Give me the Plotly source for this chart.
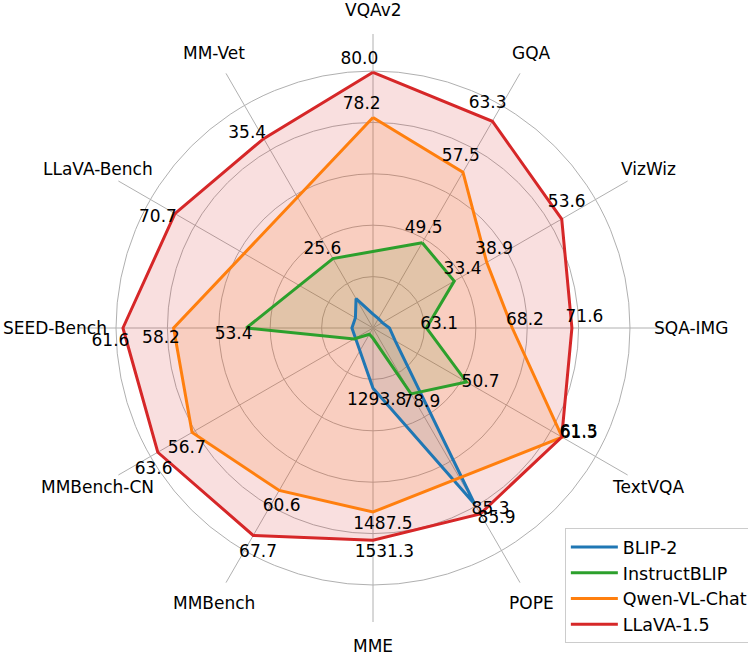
import math
import plotly.graph_objects as go

categories = ["VQAv2", "GQA", "VizWiz", "SQA-IMG", "TextVQA", "POPE",
              "MME", "MMBench", "MMBench-CN", "SEED-Bench", "LLaVA-Bench", "MM-Vet"]

# radius of each vertex on the shared 0-1 scale (None = benchmark not reported)
blip2_score = [0.054, 0.042, 0.042, 0.064, 0.10, 0.792, 0.234, None, None, 0.082, 0.079, 0.132]
instructblip_score = [None, 0.383, 0.365, 0.208, 0.42, 0.296, 0.04, 0.028, 0.085, 0.493, None, 0.312]
qwen_score = [0.819, 0.700, 0.511, 0.542, 0.850, None, 0.716, 0.730, 0.813, 0.776, None, None]
llava_score = [0.995, 0.929, 0.848, 0.774, 0.848, 0.835, 0.826, 0.932, 0.967, 0.973, 0.890, 0.851]

# benchmark numbers written next to the vertices
blip2_label = [None, None, None, None, None, 85.3, 1293.8, None, None, None, None, None]
instructblip_label = [None, 49.5, 33.4, 63.1, 50.7, 78.9, None, None, None, 53.4, None, 25.6]
qwen_label = [78.2, 57.5, 38.9, 68.2, 61.5, None, 1487.5, 60.6, 56.7, 58.2, None, None]
llava_label = [80.0, 63.3, 53.6, 71.6, 61.3, 85.9, 1531.3, 67.7, 63.6, 61.6, 70.7, 35.4]

model_names = ["BLIP-2", "InstructBLIP", "Qwen-VL-Chat", "LLaVA-1.5"]
colors = ["#1f77b4", "#2ca02c", "#ff7f0e", "#d62728"]
fills = ["rgba(31,119,180,0.15)", "rgba(44,160,44,0.15)",
         "rgba(255,127,14,0.15)", "rgba(214,39,40,0.15)"]

angles = [i * 360 / len(categories) for i in range(len(categories))]
FONT = "DejaVu Sans, sans-serif"
R_MAX = 1.144
PLOT = 588  # square plot area in px

scores = [blip2_score, instructblip_score, qwen_score, llava_score]
labels = [blip2_label, instructblip_label, qwen_label, llava_label]


def closed(score):
    th = [a for a, s in zip(angles, score) if s is not None]
    rr = [s for s in score if s is not None]
    return rr + rr[:1], th + th[:1]


fig = go.Figure()

# fills first so every outline stays on top
for score, fc in zip(scores, fills):
    rr, th = closed(score)
    fig.add_trace(go.Scatterpolar(
        r=rr, theta=th, mode="lines", fill="toself", fillcolor=fc,
        line=dict(width=0), showlegend=False, hoverinfo="skip",
    ))

for name, score, color in zip(model_names, scores, colors):
    rr, th = closed(score)
    fig.add_trace(go.Scatterpolar(
        r=rr, theta=th, mode="lines", name=name,
        line=dict(color=color, width=3),
    ))

# value labels, nudged a bit outward and counter-clockwise
for score, label in zip(scores, labels):
    th, rr, tx = [], [], []
    for a, s, v in zip(angles, score, label):
        if v is None:
            continue
        th.append(a - 2.9)
        rr.append(s + 0.05)
        tx.append(f"{v:.1f}")
    fig.add_trace(go.Scatterpolar(
        r=rr, theta=th, text=tx, mode="text", showlegend=False,
        textfont=dict(family=FONT, size=17, color="black"),
        cliponaxis=False, hoverinfo="skip",
    ))

# category names sit outside the radial range, so place them as annotations
label_r = 1.237
annotations = []
for a, cat in zip(angles, categories):
    d = label_r / R_MAX * (PLOT / 2) / PLOT
    annotations.append(dict(
        x=0.5 + d * math.sin(math.radians(a)), y=0.5 + d * math.cos(math.radians(a)),
        xref="paper", yref="paper", text=cat, showarrow=False,
        xanchor="center", yanchor="middle",
        font=dict(family=FONT, size=17, color="black"),
    ))

fig.update_layout(
    width=748, height=656,
    margin=dict(l=79, r=81, t=34, b=34, autoexpand=False),
    paper_bgcolor="white",
    font=dict(family=FONT, size=17, color="black"),
    annotations=annotations,
    polar=dict(
        bgcolor="white",
        angularaxis=dict(rotation=90, direction="clockwise", tickvals=angles,
                         showticklabels=False, ticks="", showline=False,
                         gridcolor="#b0b0b0", gridwidth=1),
        radialaxis=dict(range=[0, R_MAX], tickvals=[0.2, 0.4, 0.6, 0.8, 1.0],
                        showticklabels=False, ticks="", showline=False,
                        gridcolor="#b0b0b0", gridwidth=1),
    ),
    legend=dict(x=1.146, y=-0.036, xanchor="right", yanchor="bottom",
                bgcolor="rgba(255,255,255,0.8)", bordercolor="#cccccc",
                borderwidth=1, itemwidth=47, font=dict(family=FONT, size=17.5)),
)

# the page body has a default 8px margin; drop it so the figure sits at 0,0
fig.write_html("out.html", config={"displayModeBar": False},
               post_script="document.body.style.margin = '0';")
